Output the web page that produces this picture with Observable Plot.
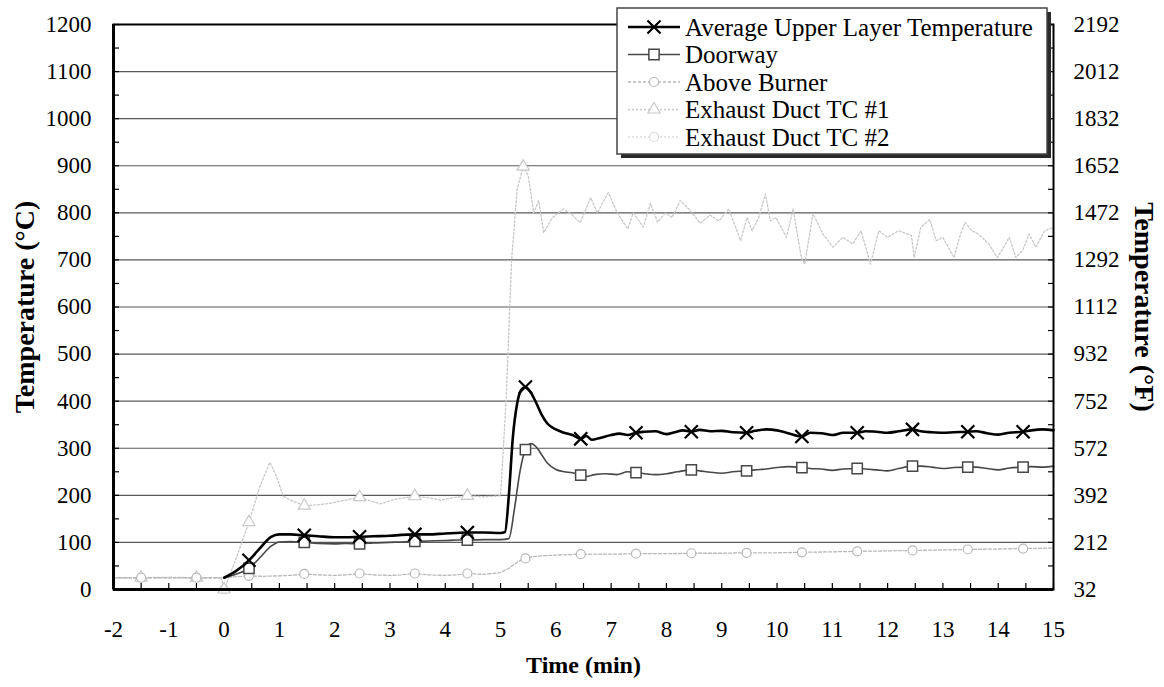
<!DOCTYPE html>
<html><head><meta charset="utf-8">
<script src="https://cdn.jsdelivr.net/npm/d3@7"></script>
<script src="https://cdn.jsdelivr.net/npm/@observablehq/plot@0.6"></script>
<style>body{margin:0;background:#fff} svg text{font-family:'Liberation Serif','Times New Roman',serif;}</style>
</head><body><div id="chart"></div>
<script>
// ---- Data ----
const seriesNames = ["Average Upper Layer Temperature", "Doorway", "Above Burner", "Exhaust Duct TC #1", "Exhaust Duct TC #2"];

const aulT = [0,0.2,0.45,0.65,0.85,1.0,1.2,1.45,1.7,2.0,2.2,2.45,2.7,3.0,3.2,3.45,3.7,4.0,4.2,4.4,4.7,5.0,5.08,5.15,5.22,5.3,5.38,5.45,5.55,5.65,5.75,5.85,6.0,6.15,6.3,6.45,6.55,6.65,6.8,7.0,7.15,7.3,7.45,7.6,7.8,8.0,8.15,8.3,8.45,8.6,8.8,9.0,9.2,9.45,9.6,9.8,10.0,10.2,10.45,10.6,10.8,11.0,11.2,11.45,11.6,11.8,12.0,12.2,12.45,12.6,12.8,13.0,13.2,13.45,13.6,13.8,14.0,14.2,14.45,14.6,14.8,15.0];
const aulV = [25,38,62,88,112,117,117,115,113,111,111,112,113,114,116,117,117,119,120,121,121,120,122,200,320,395,425,430,418,395,370,352,340,333,328,320,326,318,322,328,331,328,333,335,336,330,334,338,335,339,336,337,334,333,337,340,338,332,325,333,332,328,333,333,336,335,333,336,340,336,334,333,334,335,336,332,329,333,335,338,340,338];

const doorT = [0,0.2,0.45,0.65,0.85,1.0,1.2,1.45,1.7,2.0,2.2,2.45,2.7,3.0,3.2,3.45,3.7,4.0,4.2,4.4,4.7,5.0,5.15,5.25,5.35,5.45,5.55,5.65,5.75,5.85,6.0,6.15,6.3,6.45,6.55,6.7,6.9,7.1,7.3,7.45,7.6,7.8,8.0,8.2,8.45,8.6,8.8,9.0,9.2,9.45,9.6,9.8,10.0,10.2,10.45,10.6,10.8,11.0,11.2,11.45,11.6,11.8,12.0,12.2,12.45,12.6,12.8,13.0,13.2,13.45,13.6,13.8,14.0,14.2,14.45,14.6,14.8,15.0];
const doorV = [25,32,45,68,92,101,102,100,98,97,98,97,99,100,101,102,103,104,105,105,106,106,108,170,250,297,310,302,285,268,255,250,248,243,240,244,246,244,250,248,246,244,246,250,254,252,249,247,250,252,254,256,259,261,259,257,256,253,256,257,256,254,252,257,262,262,260,257,259,260,260,257,254,258,260,261,260,262];

const burnT = [-2,-1.5,-1,-0.5,0,0.2,0.45,0.7,1.0,1.2,1.45,1.7,2.0,2.2,2.45,2.7,3.0,3.2,3.45,3.7,4.0,4.2,4.4,4.7,5.0,5.15,5.3,5.45,5.6,5.8,6.0,6.2,6.45,7.0,7.45,8.0,8.45,9.0,9.45,10.0,10.45,11.0,11.45,12.0,12.45,13.0,13.45,14.0,14.45,15.0];
const burnV = [25,25,25,25,25,27,29,28,29,30,33,31,30,31,34,31,30,31,34,31,30,31,34,32,36,45,58,66,70,72,73,74,75,75,76,76,77,77,78,78,79,80,81,82,83,84,85,86,87,88];

const tc1T = [-2,-1.5,-1.0,-0.5,-0.05,0,0.2,0.45,0.65,0.83,0.95,1.07,1.2,1.45,1.7,1.92,2.2,2.45,2.65,2.83,3.1,3.45,3.7,3.91,4.15,4.4,4.7,5.0,5.1,5.2,5.3,5.41,5.5,5.6,5.69,5.78,5.94,6.14,6.3,6.44,6.63,6.75,6.95,7.11,7.3,7.4,7.58,7.71,7.84,7.98,8.1,8.25,8.43,8.61,8.79,8.95,9.13,9.34,9.46,9.55,9.67,9.79,9.88,9.98,10.17,10.29,10.44,10.5,10.65,10.83,11.01,11.19,11.37,11.52,11.69,11.84,12.0,12.2,12.43,12.48,12.6,12.76,12.88,13.0,13.2,13.3,13.4,13.52,13.64,13.83,13.98,14.1,14.2,14.32,14.44,14.56,14.68,14.84,15.0];
const tc1V = [25,25,26,25,25,0,60,143,220,270,240,198,190,178,180,183,190,196,188,182,192,198,195,190,195,199,197,199,400,700,850,898,880,800,826,758,790,808,795,779,832,800,843,800,766,800,770,820,780,800,790,826,805,778,795,783,808,741,790,762,790,840,783,790,748,808,705,691,798,755,727,748,734,762,691,762,748,762,752,705,769,786,741,748,705,748,780,762,755,734,705,727,748,705,720,755,727,762,769];

const tc2T = [-2,-1.5,-1,-0.5,-0.05,0];
const tc2V = [25,25,25,25,25,0];

const aulMarkT = [0.45,1.45,2.45,3.45,4.4,5.45,6.45,7.45,8.45,9.45,10.45,11.45,12.45,13.45,14.45];
const doorMarkT = [0.45,1.45,2.45,3.45,4.4,5.45,6.45,7.45,8.45,9.45,10.45,11.45,12.45,13.45,14.45];
const burnMarkT = [-1.5,-0.5,0.45,1.45,2.45,3.45,4.4,5.45,6.45,7.45,8.45,9.45,10.45,11.45,12.45,13.45,14.45];
const tc1MarkT = [-1.5,-0.5,0,0.45,1.45,2.45,3.45,4.4,5.41];
const tc2MarkT = [-1.5,-0.5,0];

const yMajor = d3.range(0, 1201, 100);
const yMinor = d3.range(0, 1201, 50);
const xMajor = d3.range(-2, 16, 1);
const xMinor = d3.range(-2, 15.01, 0.5);

// ---- Build tables ----
const rows = (name, T, V) => T.map((t, i) => ({series: name, t, v: V[i]}));
const aul = rows(seriesNames[0], aulT, aulV);
const door = rows(seriesNames[1], doorT, doorV);
const burn = rows(seriesNames[2], burnT, burnV);
const tc1 = rows(seriesNames[3], tc1T, tc1V);
const tc2 = rows(seriesNames[4], tc2T, tc2V);
const pick = (data, M) => data.filter(d => M.includes(d.t));

const styles = [
  {stroke: "#000", width: 2.6, dash: null, symbol: "times", r: 6, mstroke: "#000", mwidth: 2.2, fill: "none"},
  {stroke: "#474747", width: 1.6, dash: null, symbol: "square", r: 5.8, mstroke: "#474747", mwidth: 1.5, fill: "#fff"},
  {stroke: "#b8b8b8", width: 1.3, dash: "3,2", symbol: "circle", r: 4.5, mstroke: "#b8b8b8", mwidth: 1.2, fill: "#fff"},
  {stroke: "#c8c8c8", width: 1.3, dash: "2,2", symbol: "triangle", r: 4.5, mstroke: "#c8c8c8", mwidth: 1.2, fill: "#fff"},
  {stroke: "#dadada", width: 1.3, dash: "2,2", symbol: "circle", r: 4.5, mstroke: "#dadada", mwidth: 1.2, fill: "#fff"}
];
const lineMark = (data, s, curve) => Plot.line(data, {x: "t", y: "v", stroke: s.stroke, strokeWidth: s.width, strokeDasharray: s.dash, curve: curve || "linear"});
const dotMark = (data, s) => Plot.dot(data, {x: "t", y: "v", symbol: s.symbol, r: s.r, stroke: s.mstroke, strokeWidth: s.mwidth, fill: s.fill});

const serif = "'Liberation Serif','Times New Roman',serif";

const plot = Plot.plot({
  width: 1164, height: 687,
  marginLeft: 113, marginRight: 111, marginTop: 24, marginBottom: 98,
  x: {domain: [-2, 15]},
  y: {domain: [0, 1200]},
  style: {fontFamily: serif, fontSize: "23px", background: "#fff", color: "#000"},
  marks: [
    Plot.gridY(yMajor.slice(1, -1), {stroke: "#5a5a5a", strokeOpacity: 1, strokeWidth: 1.2}),
    Plot.axisY(yMajor, {anchor: "left", tickSize: 0, tickPadding: 22, tickFormat: d => String(d), label: null, fontSize: 23}),
    Plot.axisY(yMajor, {anchor: "right", tickSize: 0, tickPadding: 20, tickFormat: d => String(Math.round(d * 1.8 + 32)), label: null, fontSize: 23}),
    Plot.axisY(yMinor, {anchor: "left", tickSize: 6, dx: 6, tickFormat: () => "", label: null, strokeWidth: 1.2}),
    Plot.axisY(yMinor, {anchor: "right", tickSize: 6, dx: -6, tickFormat: () => "", label: null, strokeWidth: 1.2}),
    Plot.axisX(xMajor, {anchor: "bottom", tickSize: 0, tickPadding: 31, tickFormat: d => String(d), label: null, fontSize: 23}),
    Plot.axisX(xMinor, {anchor: "bottom", tickSize: 6, dy: -6, tickFormat: () => "", label: null, strokeWidth: 1.2}),
    lineMark(tc2, styles[4]), dotMark(pick(tc2, tc2MarkT), styles[4]),
    lineMark(tc1, styles[3]), dotMark(pick(tc1, tc1MarkT), styles[3]),
    lineMark(burn, styles[2]), dotMark(pick(burn, burnMarkT), styles[2]),
    lineMark(door, styles[1], "monotone-x"), dotMark(pick(door, doorMarkT), styles[1]),
    lineMark(aul, styles[0], "monotone-x"), dotMark(pick(aul, aulMarkT), styles[0]),
    Plot.frame({stroke: "#000", strokeWidth: 2}),
    Plot.ruleX([-2], {stroke: "#000", strokeWidth: 3}),
    Plot.ruleY([0], {stroke: "#000", strokeWidth: 3}),
    Plot.text(["Temperature (°C)"], {text: d => d, frameAnchor: "left", dx: -88, rotate: -90, textAnchor: "middle", lineAnchor: "middle", fontWeight: "bold", fontSize: 28}),
    Plot.text(["Temperature (°F)"], {text: d => d, frameAnchor: "right", dx: 90, rotate: 90, textAnchor: "middle", lineAnchor: "middle", fontWeight: "bold", fontSize: 28}),
    Plot.text(["Time (min)"], {text: d => d, frameAnchor: "bottom", dy: 76, textAnchor: "middle", lineAnchor: "middle", fontWeight: "bold", fontSize: 24})
  ]
});
document.getElementById("chart").appendChild(plot);

// ---- Legend (overlapping the top-right of the plot, as in the reference) ----
const svg = d3.select(plot);
const lg = svg.append("g").style("font-family", serif).style("font-size", "25px").attr("text-anchor", "start");
lg.append("rect").attr("x", 621).attr("y", 12).attr("width", 430).attr("height", 146).attr("fill", "#2a2a2a");
lg.append("rect").attr("x", 617).attr("y", 8).attr("width", 430).attr("height", 146).attr("fill", "#fff").attr("stroke", "#444").attr("stroke-width", 1.5);
const symMap = {times: d3.symbolTimes, square: d3.symbolSquare, circle: d3.symbolCircle, triangle: d3.symbolTriangle};
seriesNames.forEach((name, i) => {
  const s = styles[i];
  const y = 27 + i * 27.5;
  lg.append("line").attr("x1", 628).attr("x2", 680).attr("y1", y).attr("y2", y)
    .attr("stroke", s.stroke).attr("stroke-width", s.width).attr("stroke-dasharray", s.dash);
  lg.append("path").attr("transform", `translate(654,${y})`)
    .attr("d", d3.symbol(symMap[s.symbol], Math.PI * s.r * s.r)())
    .attr("stroke", s.mstroke).attr("stroke-width", s.mwidth).attr("fill", s.fill);
  lg.append("text").attr("x", 685).attr("y", y).attr("dy", "0.35em").attr("fill", "#000")
    .style("font-family", serif).style("font-size", "25px").attr("text-anchor", "start").text(name);
});
</script>
</body></html>
